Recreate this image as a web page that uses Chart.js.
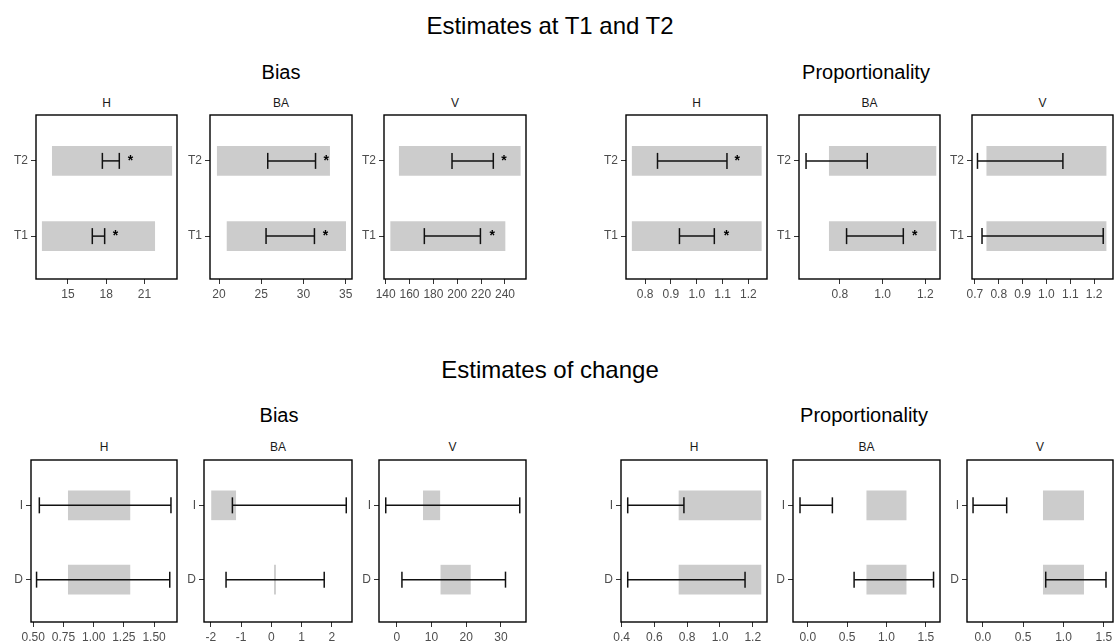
<!DOCTYPE html>
<html>
<head>
<meta charset="utf-8">
<script src="https://cdn.jsdelivr.net/npm/chart.js@4.4.1/dist/chart.umd.min.js"></script>
<style>
  body { margin: 0; width: 1117px; height: 644px; overflow: hidden; background: #fff;
         font-family: "Liberation Sans", Arial, sans-serif; position: relative; }
  .t { position: absolute; white-space: nowrap; transform: translateX(-50%); color: #000; }
  .main { font-size: 24px; line-height: 24px; }
  .sub { font-size: 20px; line-height: 20px; }
  .strip { font-size: 12px; line-height: 12px; color: #1a1a1a; }
  canvas { position: absolute; }
</style>
</head>
<body>
<div class="t main" style="left:550px;top:14px">Estimates at T1 and T2</div>
<div class="t sub" style="left:281px;top:62px">Bias</div>
<div class="t sub" style="left:866px;top:62px">Proportionality</div>

<div class="t main" style="left:550px;top:358px">Estimates of change</div>
<div class="t sub" style="left:279px;top:405px">Bias</div>
<div class="t sub" style="left:864px;top:405px">Proportionality</div>

<script>
// categories
const timeCats = ['T1', 'T2'];
const changeCats = ['D', 'I'];
const varNames = ['H', 'BA', 'V'];

// --- Estimates at T1 and T2 : Bias (rows T1, T2) ---
const t12BiasHBand = [[12.98, 21.81], [13.77, 23.15]];
const t12BiasHCI = [[16.91, 17.88], [17.70, 19.03]];
const t12BiasHStar = [18.72, 19.9];
const t12BiasHTicks = ['15', '18', '21'];

const t12BiasBABand = [[20.95, 35.0], [19.79, 33.1]];
const t12BiasBACI = [[25.57, 31.3], [25.77, 31.43]];
const t12BiasBAStar = [32.6, 32.7];
const t12BiasBATicks = ['20', '25', '30', '35'];

const t12BiasVBand = [[144.2, 240.0], [151.4, 252.8]];
const t12BiasVCI = [[172.4, 219.4], [195.6, 230.2]];
const t12BiasVStar = [229.3, 239.2];
const t12BiasVTicks = ['140', '160', '180', '200', '220', '240'];

// --- Estimates at T1 and T2 : Proportionality ---
const t12PropHBand = [[0.75, 1.25], [0.75, 1.25]];
const t12PropHCI = [[0.933, 1.068], [0.848, 1.117]];
const t12PropHStar = [1.115, 1.157];
const t12PropHTicks = ['0.8', '0.9', '1.0', '1.1', '1.2'];

const t12PropBABand = [[0.75, 1.25], [0.75, 1.25]];
const t12PropBACI = [[0.831, 1.097], [0.641, 0.928]];
const t12PropBAStar = [1.151, null];
const t12PropBATicks = ['0.8', '1.0', '1.2'];

const t12PropVBand = [[0.75, 1.25], [0.75, 1.25]];
const t12PropVCI = [[0.73, 1.238], [0.711, 1.069]];
const t12PropVStar = [null, null];
const t12PropVTicks = ['0.7', '0.8', '0.9', '1.0', '1.1', '1.2'];

// --- Estimates of change : Bias (rows D, I) ---
const chgBiasHBand = [[0.79, 1.30], [0.79, 1.30]];
const chgBiasHCI = [[0.527, 1.63], [0.55, 1.64]];
const chgBiasHTicks = ['0.50', '0.75', '1.00', '1.25', '1.50'];

const chgBiasBABand = [[0.10, 0.14], [-1.98, -1.18]];
const chgBiasBACI = [[-1.5, 1.75], [-1.29, 2.48]];
const chgBiasBATicks = ['-2', '-1', '0', '1', '2'];

const chgBiasVBand = [[12.7, 21.2], [7.66, 12.4]];
const chgBiasVCI = [[1.5, 31.3], [-3.16, 35.4]];
const chgBiasVTicks = ['0', '10', '20', '30'];

// --- Estimates of change : Proportionality ---
const chgPropHBand = [[0.75, 1.25], [0.75, 1.25]];
const chgPropHCI = [[0.437, 1.153], [0.437, 0.78]];
const chgPropHTicks = ['0.4', '0.6', '0.8', '1.0', '1.2'];

const chgPropBABand = [[0.75, 1.25], [0.75, 1.25]];
const chgPropBACI = [[0.589, 1.598], [-0.098, 0.313]];
const chgPropBATicks = ['0.0', '0.5', '1.0', '1.5'];

const chgPropVBand = [[0.75, 1.25], [0.75, 1.25]];
const chgPropVCI = [[0.78, 1.527], [-0.121, 0.296]];
const chgPropVTicks = ['0.0', '0.5', '1.0', '1.5'];

// panel layout: box = [left, top, right, bottom] of the framed area, range = x axis min/max
const TOP = [115, 279], BOT = [460, 622];
const panels = [
  { name: 0, box: [36, TOP[0], 177, TOP[1]], range: [12.49, 23.56], ticks: t12BiasHTicks, cats: timeCats, band: t12BiasHBand, ci: t12BiasHCI, star: t12BiasHStar },
  { name: 1, box: [210, TOP[0], 352, TOP[1]], range: [18.93, 35.75], ticks: t12BiasBATicks, cats: timeCats, band: t12BiasBABand, ci: t12BiasBACI, star: t12BiasBAStar },
  { name: 2, box: [384, TOP[0], 526, TOP[1]], range: [138.6, 257.6], ticks: t12BiasVTicks, cats: timeCats, band: t12BiasVBand, ci: t12BiasVCI, star: t12BiasVStar },
  { name: 0, box: [626, TOP[0], 767, TOP[1]], range: [0.726, 1.272], ticks: t12PropHTicks, cats: timeCats, band: t12PropHBand, ci: t12PropHCI, star: t12PropHStar },
  { name: 1, box: [799, TOP[0], 940, TOP[1]], range: [0.608, 1.269], ticks: t12PropBATicks, cats: timeCats, band: t12PropBABand, ci: t12PropBACI, star: t12PropBAStar },
  { name: 2, box: [972, TOP[0], 1113, TOP[1]], range: [0.688, 1.279], ticks: t12PropVTicks, cats: timeCats, band: t12PropVBand, ci: t12PropVCI, star: t12PropVStar },
  { name: 0, box: [31, BOT[0], 177, BOT[1]], range: [0.481, 1.69], ticks: chgBiasHTicks, cats: changeCats, band: chgBiasHBand, ci: chgBiasHCI },
  { name: 1, box: [204, BOT[0], 352, BOT[1]], range: [-2.23, 2.67], ticks: chgBiasBATicks, cats: changeCats, band: chgBiasBABand, ci: chgBiasBACI },
  { name: 2, box: [379, BOT[0], 526, BOT[1]], range: [-5.1, 37.2], ticks: chgBiasVTicks, cats: changeCats, band: chgBiasVBand, ci: chgBiasVCI },
  { name: 0, box: [621, BOT[0], 767, BOT[1]], range: [0.396, 1.287], ticks: chgPropHTicks, cats: changeCats, band: chgPropHBand, ci: chgPropHCI },
  { name: 1, box: [793, BOT[0], 940, BOT[1]], range: [-0.187, 1.68], ticks: chgPropBATicks, cats: changeCats, band: chgPropBABand, ci: chgPropBACI },
  { name: 2, box: [967, BOT[0], 1113, BOT[1]], range: [-0.196, 1.614], ticks: chgPropVTicks, cats: changeCats, band: chgPropVBand, ci: chgPropVCI },
];

Chart.defaults.font.family = '"Liberation Sans", Arial, sans-serif';
Chart.defaults.font.size = 12;

const YW = 40, XH = 30, PT = 2, PR = 8;

function makePanel(p) {
  const [l, t, r, b] = p.box;

  // strip title (H / BA / V)
  const st = document.createElement('div');
  st.className = 't strip';
  st.textContent = varNames[p.name];
  st.style.left = ((l + r) / 2) + 'px';
  st.style.top = (t === TOP[0] ? 97 : 441) + 'px';
  document.body.appendChild(st);

  const cv = document.createElement('canvas');
  cv.width = r - l + YW + PR;
  cv.height = b - t + PT + XH;
  cv.style.left = (l - YW) + 'px';
  cv.style.top = (t - PT) + 'px';
  document.body.appendChild(cv);

  const tickVals = p.ticks.map(Number);
  const stars = p.star || [];

  // error bars: one line per row, caps drawn as rotated 'line' points
  const datasets = p.ci.map((c, i) => ({
    type: 'line',
    order: 1,
    data: [{ x: c[0], y: i + 1 }, { x: c[1], y: i + 1 }],
    borderColor: '#111',
    borderWidth: 1.5,
    pointStyle: 'line',
    pointRadius: 8,
    pointHoverRadius: 8,
    pointRotation: 90,
    pointBorderColor: '#111',
    pointBorderWidth: 1.5,
    fill: false,
  }));
  // grey reference bands
  datasets.push({
    type: 'bar',
    order: 2,
    indexAxis: 'y',
    data: p.band.map((v, i) => ({ y: i + 1, x: v })),
    backgroundColor: '#cccccc',
    borderWidth: 0,
    barThickness: 29,
    grouped: false,
  });

  const framePlugin = {
    id: 'frame',
    afterDatasetsDraw(chart) {
      const a = chart.chartArea, ctx = chart.ctx;
      ctx.save();
      ctx.strokeStyle = '#000';
      ctx.lineWidth = 1.4;
      ctx.strokeRect(a.left, a.top, a.right - a.left, a.bottom - a.top);
      ctx.restore();
    }
  };
  const starPlugin = {
    id: 'stars',
    afterDatasetsDraw(chart) {
      const ctx = chart.ctx, xs = chart.scales.x, ys = chart.scales.y;
      ctx.save();
      ctx.fillStyle = '#000';
      ctx.font = 'bold 14px "Liberation Sans", Arial, sans-serif';
      ctx.textAlign = 'center';
      ctx.textBaseline = 'alphabetic';
      stars.forEach((v, i) => {
        if (v == null) return;
        ctx.fillText('*', xs.getPixelForValue(v), ys.getPixelForValue(i + 1) + 4);
      });
      ctx.restore();
    }
  };

  new Chart(cv, {
    type: 'line',
    data: { datasets },
    options: {
      responsive: false,
      animation: false,
      events: [],
      layout: { autoPadding: false, padding: { top: PT, right: PR, left: 0, bottom: 0 } },
      plugins: { legend: { display: false }, tooltip: { enabled: false } },
      scales: {
        x: {
          type: 'linear',
          offset: false,
          min: p.range[0],
          max: p.range[1],
          afterBuildTicks: s => { s.ticks = tickVals.map(v => ({ value: v })); },
          afterFit: s => { s.height = XH; s.paddingLeft = 0; s.paddingRight = 0; },
          ticks: {
            callback: (v, i) => p.ticks[i],
            color: '#4d4d4d',
            font: { size: 12 },
            padding: 3,
            maxRotation: 0,
            autoSkip: false,
          },
          grid: { offset: false, drawOnChartArea: false, drawTicks: true, tickLength: 5, tickColor: '#333', tickWidth: 1 },
          border: { display: false },
        },
        y: {
          type: 'linear',
          offset: false,
          min: 0.43,
          max: 2.61,
          afterBuildTicks: s => { s.ticks = [{ value: 1 }, { value: 2 }]; },
          afterFit: s => { s.width = YW; s.paddingTop = 0; s.paddingBottom = 0; },
          ticks: {
            callback: (v, i) => p.cats[i],
            color: '#4d4d4d',
            font: { size: 12 },
            padding: 3,
            autoSkip: false,
          },
          grid: { offset: false, drawOnChartArea: false, drawTicks: true, tickLength: 5, tickColor: '#333', tickWidth: 1 },
          border: { display: false },
        },
      },
    },
    plugins: [framePlugin, starPlugin],
  });
}

panels.forEach(makePanel);
</script>
</body>
</html>
